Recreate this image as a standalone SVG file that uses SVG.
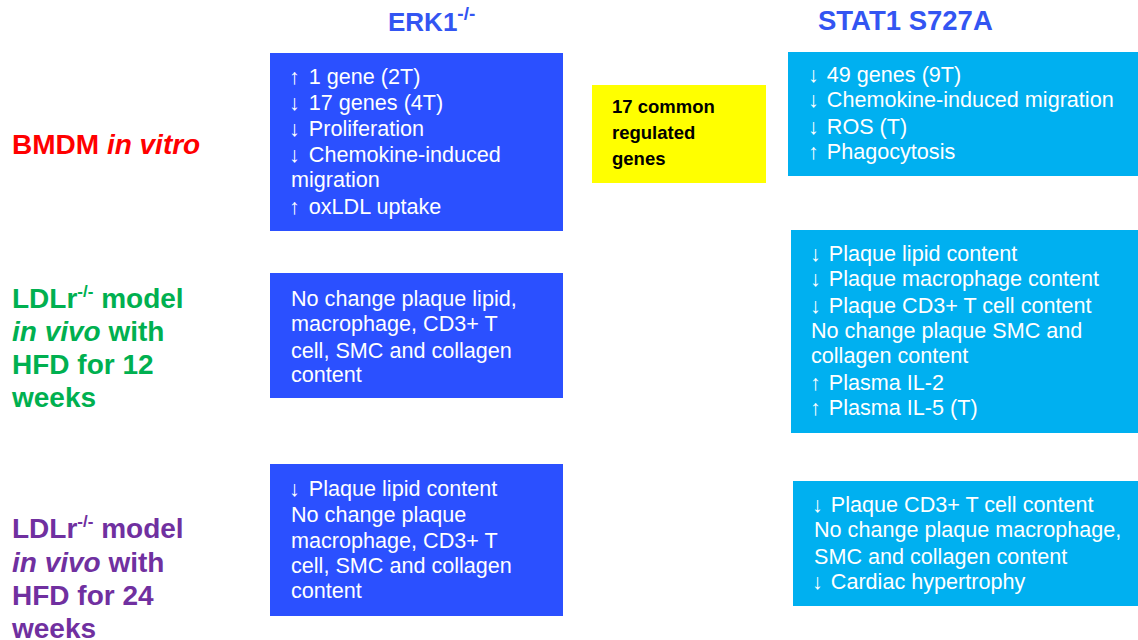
<svg xmlns="http://www.w3.org/2000/svg" width="1138" height="640" viewBox="0 0 1138 640">
<style>
.t{font-family:"Liberation Sans",Arial,sans-serif;font-size:21.6px;fill:#fff}
.title{font-family:"Liberation Sans",Arial,sans-serif;font-weight:bold;fill:#3355f2}
.lab{font-family:"Liberation Sans",Arial,sans-serif;font-size:28px;font-weight:bold}
.erk{fill:#2b50ff}
.stat{fill:#00b0f0}
.y{font-family:"Liberation Sans",Arial,sans-serif;font-size:18.5px;font-weight:bold;fill:#000}
</style>
<rect width="1138" height="640" fill="#fff"/>
<g id="title-erk"><text class="title" font-size="26" x="388" y="31">ERK1<tspan font-size="19" dy="-11">-/-</tspan></text></g>
<g id="title-stat"><text class="title" font-size="27.5" x="818" y="30">STAT1 S727A</text></g>
<g id="label-bmdm"><text class="lab" x="12" y="154" fill="#ff0000">BMDM <tspan font-style="italic">in vitro</tspan></text></g>
<g id="label-12" class="lab" fill="#00b050">
<text x="12" y="308">LDLr<tspan font-size="17" dy="-11">-/-</tspan><tspan dy="11"> model</tspan></text>
<text x="12" y="341"><tspan font-style="italic">in vivo</tspan> with</text>
<text x="12" y="374">HFD for 12</text>
<text x="12" y="407">weeks</text>
</g>
<g id="label-24" class="lab" fill="#7030a0">
<text x="12" y="538">LDLr<tspan font-size="17" dy="-11">-/-</tspan><tspan dy="11"> model</tspan></text>
<text x="12" y="572"><tspan font-style="italic">in vivo</tspan> with</text>
<text x="12" y="605">HFD for 24</text>
<text x="12" y="638">weeks</text>
</g>
<g id="erk-bmdm">
<rect class="erk" x="270" y="53" width="293" height="178"/>
<text class="t" x="289" y="84">↑<tspan dx="3"> 1 gene (2T)</tspan></text>
<text class="t" x="289" y="110">↓<tspan dx="3"> 17 genes (4T)</tspan></text>
<text class="t" x="289" y="136">↓<tspan dx="3"> Proliferation</tspan></text>
<text class="t" x="289" y="162">↓<tspan dx="3"> Chemokine-induced</tspan></text>
<text class="t" x="291" y="187">migration</text>
<text class="t" x="289" y="214">↑<tspan dx="3"> oxLDL uptake</tspan></text>
</g>
<g id="common">
<rect x="592" y="85" width="174" height="98" fill="#ffff00"/>
<text class="y" x="612" y="113">17 common</text>
<text class="y" x="612" y="139">regulated</text>
<text class="y" x="612" y="165">genes</text>
</g>
<g id="stat-bmdm">
<rect class="stat" x="788" y="52" width="350" height="124"/>
<text class="t" x="808" y="82">↓<tspan dx="2"> 49 genes (9T)</tspan></text>
<text class="t" x="808" y="107">↓<tspan dx="2"> Chemokine-induced migration</tspan></text>
<text class="t" x="808" y="134">↓<tspan dx="2"> ROS (T)</tspan></text>
<text class="t" x="808" y="159">↑<tspan dx="2"> Phagocytosis</tspan></text>
</g>
<g id="erk-12">
<rect class="erk" x="270" y="273" width="293" height="125"/>
<text class="t" x="291" y="306">No change plaque lipid,</text>
<text class="t" x="291" y="331">macrophage, CD3+ T</text>
<text class="t" x="291" y="358">cell, SMC and collagen</text>
<text class="t" x="291" y="382">content</text>
</g>
<g id="stat-12">
<rect class="stat" x="791" y="230" width="347" height="203"/>
<text class="t" x="810" y="261">↓<tspan dx="2"> Plaque lipid content</tspan></text>
<text class="t" x="810" y="286">↓<tspan dx="2"> Plaque macrophage content</tspan></text>
<text class="t" x="810" y="313">↓<tspan dx="2"> Plaque CD3+ T cell content</tspan></text>
<text class="t" x="811" y="338">No change plaque SMC and</text>
<text class="t" x="811" y="363">collagen content</text>
<text class="t" x="810" y="390">↑<tspan dx="2"> Plasma IL-2</tspan></text>
<text class="t" x="810" y="415">↑<tspan dx="2"> Plasma IL-5 (T)</tspan></text>
</g>
<g id="erk-24">
<rect class="erk" x="270" y="464" width="293" height="152"/>
<text class="t" x="289" y="496">↓<tspan dx="3"> Plaque lipid content</tspan></text>
<text class="t" x="291" y="522">No change plaque</text>
<text class="t" x="291" y="548">macrophage, CD3+ T</text>
<text class="t" x="291" y="573">cell, SMC and collagen</text>
<text class="t" x="291" y="598">content</text>
</g>
<g id="stat-24">
<rect class="stat" x="793" y="481" width="345" height="125"/>
<text class="t" x="812" y="512">↓<tspan dx="2"> Plaque CD3+ T cell content</tspan></text>
<text class="t" x="814" y="537">No change plaque macrophage,</text>
<text class="t" x="814" y="564">SMC and collagen content</text>
<text class="t" x="812" y="589">↓<tspan dx="2"> Cardiac hypertrophy</tspan></text>
</g>
<g id="connectors"></g>
</svg>
